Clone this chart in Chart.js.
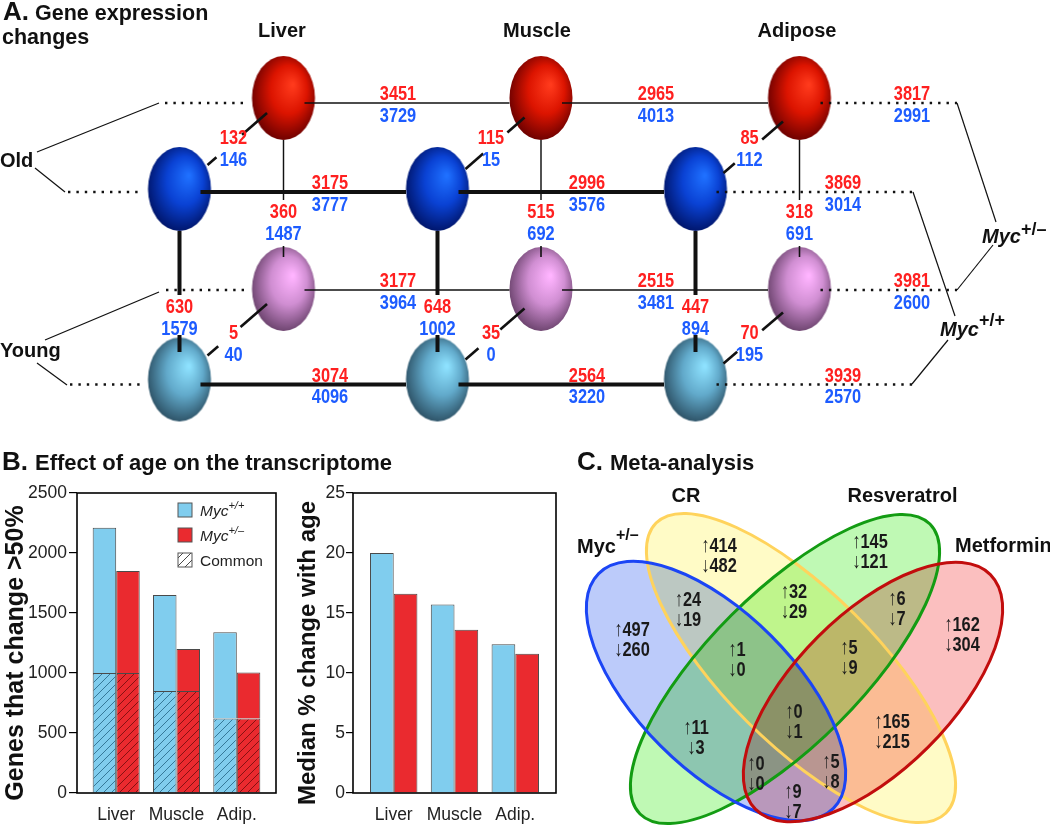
<!DOCTYPE html>
<html><head><meta charset="utf-8">
<script src="https://cdn.jsdelivr.net/npm/chart.js@4.4.1/dist/chart.umd.min.js"></script>
<style>
html,body{margin:0;padding:0;background:#fff;}
body{width:1050px;height:828px;position:relative;overflow:hidden;}
.w{position:absolute;}
</style></head><body>
<div class="w" style="left:0;top:0;width:1050px;height:480px"><canvas id="ca"></canvas></div>
<div class="w" style="left:0;top:480px;width:290px;height:348px"><canvas id="cb1"></canvas></div>
<div class="w" style="left:280px;top:480px;width:290px;height:348px"><canvas id="cb2"></canvas></div>
<div class="w" style="left:560px;top:480px;width:490px;height:348px"><canvas id="cc"></canvas></div>
<script>
// ================= DATA =================
const tissues = ['Liver', 'Muscle', 'Adipose'];
// Panel A: genes changed (red = upper number, blue = lower number)
const oldHetAcrossUp = [3451, 2965, 3817];
const oldHetAcrossDown = [3729, 4013, 2991];
const oldWtAcrossUp = [3175, 2996, 3869];
const oldWtAcrossDown = [3777, 3576, 3014];
const youngHetAcrossUp = [3177, 2515, 3981];
const youngHetAcrossDown = [3964, 3481, 2600];
const youngWtAcrossUp = [3074, 2564, 3939];
const youngWtAcrossDown = [4096, 3220, 2570];
const oldGenotypeUp = [132, 115, 85];
const oldGenotypeDown = [146, 15, 112];
const youngGenotypeUp = [5, 35, 70];
const youngGenotypeDown = [40, 0, 195];
const hetAgeUp = [360, 515, 318];
const hetAgeDown = [1487, 692, 691];
const wtAgeUp = [630, 648, 447];
const wtAgeDown = [1579, 1002, 894];

// Panel B
const barCategories = ['Liver', 'Muscle', 'Adip.'];
const genesWt = [2210, 1650, 1340];
const genesHet = [1850, 1200, 1005];
const genesCommon = [1000, 850, 620];
const genesTicks = [0, 500, 1000, 1500, 2000, 2500];
const medianWt = [20.0, 15.7, 12.4];
const medianHet = [16.6, 13.6, 11.6];
const medianTicks = [0, 5, 10, 15, 20, 25];

// Panel C
const vennSets = ['Myc', 'CR', 'Resveratrol', 'Metformin'];
const vennUp =   [497, 414, 145, 162, 24, 32, 6, 1, 5, 11, 0, 165, 0, 5, 9];
const vennDown = [260, 482, 121, 304, 19, 29, 7, 0, 9, 3, 1, 215, 0, 8, 7];

// ================= LAYOUT =================
const hetX = [283.5, 541, 799.5];
const wtX = [179.5, 437.5, 695.5];
const rowY = {oldHet: 98, oldWt: 189, youngHet: 289, youngWt: 379.5};
const lineY = {oldHet: 103, oldWt: 192, youngHet: 290, youngWt: 384.5};
const acrossLabelX = {het: [398, 656, 912], wt: [330, 587, 843]};
const diagStartDy = [15, 19.5, 23.5];
const diagEndDy = [-24, -20, -16];
const oldGapT = [[0.42, 0.85], [0.29, 0.70], [0.35, 0.81]];
const youngGapT = [[0.445, 0.82], [0.41, 0.78], [0.35, 0.77]];
const vennLabelPos = [[632,628],[719,544],[870,540],[962,623],[688,598],[794,590],[897,597],[737,648],[849,646],[696,726],[794,710],[892,720],[756,762],[831,760],[793,790]];
const vennEllipses = [
  {cx: 716, cy: 691, a: 166, b: 78, rot: 45, fill: '#bccbfa', stroke: '#1b45f5'},
  {cx: 801, cy: 668, a: 205, b: 76, rot: 45, fill: '#fffbc6', stroke: '#ffd35c'},
  {cx: 785, cy: 669, a: 205, b: 76, rot: -45, fill: '#bff9b4', stroke: '#139c13'},
  {cx: 873, cy: 692, a: 166, b: 78, rot: -45, fill: '#fbbfbf', stroke: '#c20d0d'}
];

const FF = '"Liberation Sans", Arial, Helvetica, sans-serif';
const RED = '#ff2020', BLUE = '#1d5cff', INK = '#111';
const BAR_BLUE = '#80cdee', BAR_RED = '#ea2a2f';

// ================= HELPERS =================
function drawRuns(ctx, x, y, runs, align, sx) {
  sx = sx || 1;
  let total = 0;
  runs.forEach(r => { ctx.font = r.font; r.w = ctx.measureText(r.t).width * sx; total += r.w; });
  let cx = align === 'center' ? x - total / 2 : (align === 'right' ? x - total : x);
  runs.forEach(r => {
    ctx.save();
    ctx.font = r.font; ctx.fillStyle = r.color || INK; ctx.textBaseline = 'alphabetic'; ctx.textAlign = 'left';
    ctx.translate(cx, y + (r.dy || 0)); ctx.scale(sx, 1); ctx.fillText(r.t, 0, 0);
    ctx.restore();
    cx += r.w;
  });
}
function ballImage(light, mid, dark) {
  const rx = 31.5, ry = 42;
  const c = document.createElement('canvas'); c.width = 66; c.height = 88;
  const g = c.getContext('2d');
  g.translate(33, 44); g.scale(1, ry / rx);
  const grad = g.createRadialGradient(rx * 0.3, -rx * 0.32, 1, rx * 0.05, -rx * 0.08, rx * 1.12);
  grad.addColorStop(0, light); grad.addColorStop(0.5, mid); grad.addColorStop(1, dark);
  g.fillStyle = grad; g.beginPath(); g.arc(0, 0, rx, 0, Math.PI * 2); g.fill();
  return c;
}
function hatch(bg, line) {
  const c = document.createElement('canvas'); c.width = 8; c.height = 8;
  const g = c.getContext('2d');
  g.fillStyle = bg; g.fillRect(0, 0, 8, 8);
  g.strokeStyle = line; g.lineWidth = 0.9;
  g.beginPath(); g.moveTo(0, 8); g.lineTo(8, 0); g.moveTo(-1, 1); g.lineTo(1, -1); g.moveTo(7, 9); g.lineTo(9, 7); g.stroke();
  return g.createPattern(c, 'repeat');
}

// ================= PANEL A =================
const imgRed = ballImage('#ff3a1c', '#dc1400', '#6a0000');
const imgBlue = ballImage('#1f70ff', '#0a42d4', '#001468');
const imgPink = ballImage('#ffb4ff', '#d08ed2', '#6a426c');
const imgLBlue = ballImage('#8ee2ff', '#62aacb', '#2c5064');

const segs = [];
function seg(x1, y1, x2, y2, w, dash) { segs.push({x1, y1, x2, y2, w, dash}); }
const DOT = [2.4, 6];
const THIN = 1.45;
// horizontal rows
[['oldHet', hetX, THIN, 165, 247, 957], ['youngHet', hetX, THIN, 166, 247, 957],
 ['oldWt', wtX, 4, 68, 143, 913], ['youngWt', wtX, 4, 70, 143, 913]].forEach(([r, xs, w, l1, l2, rEnd]) => {
  const y = lineY[r];
  seg(l1, y, l2, y, 2.4, DOT);
  seg(xs[0] + 21, y, xs[1] - 31.5, y, w);
  seg(xs[1] + 21, y, xs[2] - 31.5, y, w);
  seg(xs[2] + 21, y, rEnd, y, 2.4, DOT);
});
// vertical (age)
for (let i = 0; i < 3; i++) {
  seg(hetX[i], rowY.oldHet + 42, hetX[i], 200, THIN);
  seg(hetX[i], rowY.youngHet - 43, hetX[i], rowY.youngHet - 32, 1.6);
  seg(wtX[i], rowY.oldWt + 42, wtX[i], 295, 4);
  seg(wtX[i], 335, wtX[i], 352, 4);
}
// diagonal (genotype)
[['oldHet', 'oldWt', oldGapT], ['youngHet', 'youngWt', youngGapT]].forEach(([h, wr, gaps]) => {
  for (let i = 0; i < 3; i++) {
    const x1 = hetX[i] - 16.5, y1 = rowY[h] + diagStartDy[i];
    const x2 = wtX[i] + 28, y2 = rowY[wr] + diagEndDy[i];
    const [t1, t2] = gaps[i];
    seg(x1, y1, x1 + (x2 - x1) * t1, y1 + (y2 - y1) * t1, 2.6);
    seg(x1 + (x2 - x1) * t2, y1 + (y2 - y1) * t2, x2, y2, 2.6);
  }
});
// brackets for Old / Young / Myc labels
seg(37, 152, 159, 103, 1.2); seg(35, 168, 65, 192, 1.2);
seg(45, 340, 159, 292, 1.2); seg(37, 363, 67, 385, 1.2);
seg(957, 103, 996, 222, 1.2); seg(993, 245, 957, 290, 1.2);
seg(913, 192, 955, 316, 1.2); seg(948, 340, 912, 384, 1.2);

const aDatasets = segs.map(s => ({
  type: 'scatter', data: [{x: s.x1, y: s.y1}, {x: s.x2, y: s.y2}], showLine: true,
  borderColor: INK, borderWidth: s.w, borderDash: s.dash || [], borderCapStyle: 'butt',
  pointRadius: 0, order: 0
}));
[[hetX, 'oldHet', imgRed], [wtX, 'oldWt', imgBlue], [hetX, 'youngHet', imgPink], [wtX, 'youngWt', imgLBlue]].forEach(([xs, r, img]) => {
  aDatasets.push({type: 'scatter', data: xs.map(x => ({x, y: rowY[r]})), pointStyle: img, pointRadius: 10, order: 5});
});

const NUMF = 'bold 21px ' + FF;
function num(ctx, ch, v, x, y, color) {
  drawRuns(ctx, ch.scales.x.getPixelForValue(x), ch.scales.y.getPixelForValue(y) + 7.6, [{t: String(v), font: NUMF, color}], 'center', 0.78);
}
const panelAText = {
  id: 'panelAText',
  afterDatasetsDraw(ch) {
    const ctx = ch.ctx, X = v => ch.scales.x.getPixelForValue(v), Y = v => ch.scales.y.getPixelForValue(v);
    // across numbers
    [['oldHet', 'het', oldHetAcrossUp, oldHetAcrossDown], ['oldWt', 'wt', oldWtAcrossUp, oldWtAcrossDown],
     ['youngHet', 'het', youngHetAcrossUp, youngHetAcrossDown], ['youngWt', 'wt', youngWtAcrossUp, youngWtAcrossDown]].forEach(([r, g, up, dn]) => {
      for (let i = 0; i < 3; i++) {
        num(ctx, ch, up[i], acrossLabelX[g][i], lineY[r] - 10.5, RED);
        num(ctx, ch, dn[i], acrossLabelX[g][i], lineY[r] + 11, BLUE);
      }
    });
    for (let i = 0; i < 3; i++) {
      num(ctx, ch, oldGenotypeUp[i], hetX[i] - 50, rowY.oldHet + 38, RED);
      num(ctx, ch, oldGenotypeDown[i], hetX[i] - 50, rowY.oldHet + 60, BLUE);
      num(ctx, ch, youngGenotypeUp[i], hetX[i] - 50, rowY.youngHet + 42, RED);
      num(ctx, ch, youngGenotypeDown[i], hetX[i] - 50, rowY.youngHet + 64, BLUE);
      num(ctx, ch, hetAgeUp[i], hetX[i], 210, RED);
      num(ctx, ch, hetAgeDown[i], hetX[i], 232, BLUE);
      num(ctx, ch, wtAgeUp[i], wtX[i], 305, RED);
      num(ctx, ch, wtAgeDown[i], wtX[i], 327, BLUE);
    }
    const B20 = 'bold 20px ' + FF;
    const tissueLabelX = [282, 537, 797];
    tissues.forEach((t, i) => drawRuns(ctx, X(tissueLabelX[i]), Y(37.3), [{t, font: B20}], 'center'));
    drawRuns(ctx, X(0), Y(166.7), [{t: 'Old', font: B20}], 'left');
    drawRuns(ctx, X(0), Y(356.7), [{t: 'Young', font: B20}], 'left');
    drawRuns(ctx, X(982), Y(242.7), [{t: 'Myc', font: 'italic bold 20px ' + FF}, {t: '+/\u2013', font: 'bold 18px ' + FF, dy: -8}], 'left');
    drawRuns(ctx, X(940), Y(336), [{t: 'Myc', font: 'italic bold 20px ' + FF}, {t: '+/+', font: 'bold 18px ' + FF, dy: -10}], 'left');
    // panel titles
    const L = 'bold 26px ' + FF, T = 'bold 22px ' + FF;
    drawRuns(ctx, X(3), Y(19.5), [{t: 'A.', font: L}], 'left');
    drawRuns(ctx, X(35), Y(19.5), [{t: 'Gene expression', font: 'bold 21.5px ' + FF}], 'left');
    drawRuns(ctx, X(2), Y(43.5), [{t: 'changes', font: 'bold 21.5px ' + FF}], 'left');
    drawRuns(ctx, X(2), Y(470), [{t: 'B.', font: L}], 'left');
    drawRuns(ctx, X(35), Y(470), [{t: 'Effect of age on the transcriptome', font: T}], 'left');
    drawRuns(ctx, X(577), Y(470), [{t: 'C.', font: L}], 'left');
    drawRuns(ctx, X(610), Y(470), [{t: 'Meta-analysis', font: T}], 'left');
  }
};
new Chart(document.getElementById('ca'), {
  type: 'scatter',
  data: {datasets: aDatasets},
  options: {
    responsive: true, maintainAspectRatio: false, animation: false, events: [],
    layout: {padding: 0, autoPadding: false},
    scales: {x: {type: 'linear', min: 0, max: 1050, display: false}, y: {type: 'linear', min: 0, max: 480, reverse: true, display: false}},
    plugins: {legend: {display: false}, tooltip: {enabled: false}}
  },
  plugins: [panelAText]
});

// ================= PANEL B =================
const hatchBlue = hatch(BAR_BLUE, '#2c6f8e');
const hatchRed = hatch(BAR_RED, '#7a0f10');
const TICKF = {family: FF, size: 17.5};

function frame(titleText, titleX, titleSize, legend) {
  return {
    id: 'frame',
    afterDraw(ch) {
      const ctx = ch.ctx, a = ch.chartArea;
      ctx.save(); ctx.strokeStyle = '#000'; ctx.lineWidth = 1.6; ctx.strokeRect(a.left, a.top, a.right - a.left, a.bottom - a.top); ctx.restore();
      ctx.save(); ctx.translate(titleX, (a.top + a.bottom) / 2 + 10); ctx.rotate(-Math.PI / 2);
      drawRuns(ctx, 0, 0, [{t: titleText, font: 'bold ' + titleSize + 'px ' + FF, color: '#111'}], 'center');
      ctx.restore();
      if (legend) {
        const items = [[BAR_BLUE, [{t: 'Myc', font: 'italic 15.5px ' + FF}, {t: '+/+', font: 'italic 11px ' + FF, dy: -7}]],
                       [BAR_RED, [{t: 'Myc', font: 'italic 15.5px ' + FF}, {t: '+/\u2013', font: 'italic 11px ' + FF, dy: -7}]],
                       [hatch('#ffffff', '#333'), [{t: 'Common', font: '15.5px ' + FF}]]];
        items.forEach(([fill, runs], k) => {
          const y = a.top + 10 + k * 25;
          ctx.save(); ctx.fillStyle = fill; ctx.fillRect(a.left + 101, y, 14, 14);
          ctx.strokeStyle = '#555'; ctx.lineWidth = 1; ctx.strokeRect(a.left + 101, y, 14, 14); ctx.restore();
          drawRuns(ctx, a.left + 123, y + 13, runs.map(r => Object.assign({color: '#222'}, r)), 'left');
        });
      }
    }
  };
}
function xScale(min, max) {
  return {
    type: 'linear', min, max, offset: false,
    grid: {display: false, drawTicks: false}, border: {display: false},
    afterBuildTicks: s => { s.ticks = barCategories.map((c, i) => ({value: i})); },
    afterFit: s => { s.height = 35; },
    ticks: {font: TICKF, color: '#222', padding: 11.5, maxRotation: 0, autoSkip: false, callback: v => barCategories[v]}
  };
}
function yScale(max, step, ticks, width, tickLen, pad) {
  return {
    type: 'linear', min: 0, max, stacked: true,
    afterBuildTicks: s => { s.ticks = ticks.map(v => ({value: v})); },
    afterFit: s => { s.width = width; },
    grid: {display: true, drawOnChartArea: false, drawTicks: true, tickLength: tickLen, color: '#000', lineWidth: 1.2},
    border: {display: false},
    ticks: {font: TICKF, color: '#222', padding: pad, callback: v => String(v)}
  };
}
const barCommon = {borderColor: '#4a4a4a', borderWidth: 1, barPercentage: 1, categoryPercentage: 0.78};
new Chart(document.getElementById('cb1'), {
  type: 'bar',
  data: {datasets: [
    Object.assign({label: 'wt common', stack: 'wt', backgroundColor: hatchBlue, data: genesCommon.map((v, i) => ({x: i, y: v}))}, barCommon),
    Object.assign({label: 'wt', stack: 'wt', backgroundColor: BAR_BLUE, data: genesWt.map((v, i) => ({x: i, y: v - genesCommon[i]}))}, barCommon),
    Object.assign({label: 'het common', stack: 'het', backgroundColor: hatchRed, data: genesCommon.map((v, i) => ({x: i, y: v}))}, barCommon),
    Object.assign({label: 'het', stack: 'het', backgroundColor: BAR_RED, data: genesHet.map((v, i) => ({x: i, y: v - genesCommon[i]}))}, barCommon)
  ]},
  options: {
    responsive: true, maintainAspectRatio: false, animation: false, events: [],
    layout: {padding: {top: 13, right: 14, left: 0, bottom: 0}, autoPadding: false},
    scales: {x: xScale(-0.65, 2.65), y: yScale(2500, 500, genesTicks, 77, 8, 2)},
    plugins: {legend: {display: false}, tooltip: {enabled: false}}
  },
  plugins: [frame('Genes that change >50%', 22.5, 25, true)]
});
new Chart(document.getElementById('cb2'), {
  type: 'bar',
  data: {datasets: [
    Object.assign({label: 'wt', stack: 'wt', backgroundColor: BAR_BLUE, data: medianWt.map((v, i) => ({x: i, y: v}))}, barCommon),
    Object.assign({label: 'het', stack: 'het', backgroundColor: BAR_RED, data: medianHet.map((v, i) => ({x: i, y: v}))}, barCommon)
  ]},
  options: {
    responsive: true, maintainAspectRatio: false, animation: false, events: [],
    layout: {padding: {top: 13, right: 14, left: 0, bottom: 0}, autoPadding: false},
    scales: {x: xScale(-0.67, 2.67), y: yScale(25, 5, medianTicks, 73, 7, 1)},
    plugins: {legend: {display: false}, tooltip: {enabled: false}}
  },
  plugins: [frame('Median % change with age', 35, 24, false)]
});

// ================= PANEL C =================
const vennPlugin = {
  id: 'venn',
  beforeDatasetsDraw(ch) {
    const ctx = ch.ctx, X = v => ch.scales.x.getPixelForValue(v), Y = v => ch.scales.y.getPixelForValue(v);
    const k = X(1) - X(0);
    ctx.save(); ctx.globalCompositeOperation = 'multiply';
    vennEllipses.forEach(e => { ctx.beginPath(); ctx.ellipse(X(e.cx), Y(e.cy), e.a * k, e.b * k, e.rot * Math.PI / 180, 0, Math.PI * 2); ctx.fillStyle = e.fill; ctx.fill(); });
    ctx.restore();
    ctx.save(); ctx.lineWidth = 3;
    [1, 2, 0, 3].forEach(j => { const e = vennEllipses[j]; ctx.beginPath(); ctx.ellipse(X(e.cx), Y(e.cy), e.a * k, e.b * k, e.rot * Math.PI / 180, 0, Math.PI * 2); ctx.strokeStyle = e.stroke; ctx.stroke(); });
    ctx.restore();
  },
  afterDatasetsDraw(ch) {
    const ctx = ch.ctx, X = v => ch.scales.x.getPixelForValue(v), Y = v => ch.scales.y.getPixelForValue(v);
    const NB = 'bold 21px ' + FF, NR = '21px ' + FF;
    vennUp.forEach((u, i) => {
      const [x, y] = vennLabelPos[i];
      drawRuns(ctx, X(x), Y(y) + 7.5, [{t: '\u2191', font: NR, color: '#1a1a1a'}, {t: String(u), font: NB, color: '#1a1a1a'}], 'center', 0.78);
      drawRuns(ctx, X(x), Y(y + 20) + 7.5, [{t: '\u2193', font: NR, color: '#1a1a1a'}, {t: String(vennDown[i]), font: NB, color: '#1a1a1a'}], 'center', 0.78);
    });
    const B20 = 'bold 20px ' + FF;
    drawRuns(ctx, X(577), Y(553), [{t: vennSets[0], font: B20}, {t: '+/\u2013', font: 'bold 16px ' + FF, dy: -13}], 'left');
    drawRuns(ctx, X(686), Y(502), [{t: vennSets[1], font: B20}], 'center');
    drawRuns(ctx, X(902.5), Y(502), [{t: vennSets[2], font: B20}], 'center');
    drawRuns(ctx, X(955), Y(552), [{t: vennSets[3], font: B20}], 'left');
  }
};
new Chart(document.getElementById('cc'), {
  type: 'scatter',
  data: {datasets: [{data: vennEllipses.map(e => ({x: e.cx, y: e.cy})), pointRadius: 0}]},
  options: {
    responsive: true, maintainAspectRatio: false, animation: false, events: [],
    layout: {padding: 0, autoPadding: false},
    scales: {x: {type: 'linear', min: 560, max: 1050, display: false}, y: {type: 'linear', min: 480, max: 828, reverse: true, display: false}},
    plugins: {legend: {display: false}, tooltip: {enabled: false}}
  },
  plugins: [vennPlugin]
});
</script>
</body></html>
